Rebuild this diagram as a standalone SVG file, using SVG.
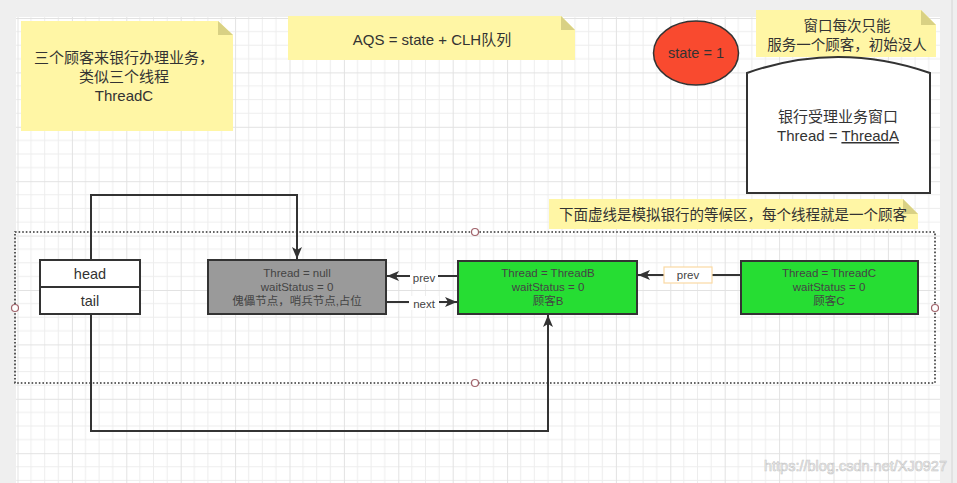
<svg xmlns="http://www.w3.org/2000/svg" width="957" height="483" viewBox="0 0 957 483">
<defs>
<pattern id="grid" patternUnits="userSpaceOnUse" x="17.5" y="18" width="54.4" height="54.4">
<path d="M13.6,0V54.4M27.2,0V54.4M40.8,0V54.4M0,13.6H54.4M0,27.2H54.4M0,40.8H54.4" stroke="#ededed" stroke-width="1" fill="none"/>
<path d="M0.5,0V54.4M0,0.5H54.4" stroke="#e2e2e2" stroke-width="1" fill="none"/>
</pattern>
<marker id="arr" markerUnits="userSpaceOnUse" markerWidth="14" markerHeight="12" refX="12" refY="5" orient="auto">
<path d="M0,0 L12,5 L0,10 L3,5 Z" fill="#333"/>
</marker>
<style>
.note{fill:#fff6a5}
.fold{fill:#d9d184}
.t{font-family:"Liberation Sans","Noto Sans CJK SC",sans-serif;fill:#333;text-anchor:middle}
.n{font-family:"Liberation Sans","Noto Sans CJK SC",sans-serif;fill:#444;text-anchor:middle;font-size:11.5px}
.box{stroke:#333;stroke-width:2}
.conn{fill:none;stroke:#333;stroke-width:2}
.handle{fill:#fff;stroke:#a0626a;stroke-width:1.2}
</style>
</defs>
<rect x="0" y="0" width="957" height="483" fill="#efefef"/>
<rect x="16" y="17" width="924" height="466" fill="#fff"/>
<rect x="16" y="17" width="924" height="466" fill="url(#grid)"/>
<line x1="952" y1="0" x2="952" y2="483" stroke="#d4d4d4" stroke-width="1"/>

<g id="note-customers">
<path class="note" d="M21,21H218L233,35V131H21Z"/>
<path class="fold" d="M218,21L233,35H218Z"/>
<text class="t" font-size="15" x="124" y="63">三个顾客来银行办理业务，</text>
<text class="t" font-size="15" x="124" y="82">类似三个线程</text>
<text class="t" font-size="15" x="124" y="101">ThreadC</text>
</g>

<g id="note-aqs">
<path class="note" d="M288,16H561L575,30V60H288Z"/>
<path class="fold" d="M561,16L575,30H561Z"/>
<text class="t" font-size="15" x="432" y="45">AQS = state + CLH队列</text>
</g>

<g id="state">
<ellipse cx="696" cy="53" rx="42.5" ry="32" fill="#f94a2f" stroke="#333" stroke-width="1.5"/>
<text class="t" font-size="14.5" x="696" y="58">state = 1</text>
</g>

<g id="note-window">
<path class="note" d="M756,10H921L936,25V57H756Z"/>
<path class="fold" d="M921,10L936,25H921Z"/>
<text class="t" font-size="14.5" x="847" y="31">窗口每次只能</text>
<text class="t" font-size="14.5" x="847" y="50">服务一个顾客，初始没人</text>
</g>

<g id="window">
<path d="M747,193V73Q838,41 930,73V193Z" fill="#fff" stroke="#333" stroke-width="2"/>
<text class="t" font-size="15" x="838" y="122">银行受理业务窗口</text>
<text class="t" font-size="15" x="838" y="141">Thread = <tspan text-decoration="underline">ThreadA</tspan></text>
</g>

<g id="note-queue">
<path class="note" d="M549,199H903L918,214V229H549Z"/>
<path class="fold" d="M903,199L918,214H903Z"/>
<text class="t" font-size="14.5" x="733" y="220">下面虚线是模拟银行的等候区，每个线程就是一个顾客</text>
</g>

<g id="waiting-area">
<rect x="15" y="232" width="920" height="151" fill="none" stroke="#333" stroke-width="1.6" stroke-dasharray="1.6 2"/>
<circle class="handle" cx="475" cy="232" r="3.5"/>
<circle class="handle" cx="15" cy="308" r="3.5"/>
<circle class="handle" cx="935" cy="308" r="3.5"/>
<circle class="handle" cx="475" cy="383" r="3.5"/>
</g>

<g id="head-tail">
<rect class="box" x="40" y="260" width="100" height="54" fill="#fff"/>
<line x1="40" y1="287" x2="140" y2="287" stroke="#333" stroke-width="2"/>
<text class="t" font-size="14.5" x="90" y="279">head</text>
<text class="t" font-size="14.5" x="90" y="306">tail</text>
</g>

<g id="node-null">
<rect class="box" x="208" y="260" width="178" height="54" fill="#9a9a9a"/>
<text class="n" x="297" y="277">Thread = null</text>
<text class="n" x="297" y="291">waitStatus = 0</text>
<text class="n" x="297" y="305">傀儡节点，哨兵节点,占位</text>
</g>

<g id="node-b">
<rect class="box" x="458" y="261" width="179" height="53" fill="#26dd33"/>
<text class="n" x="548" y="277">Thread = ThreadB</text>
<text class="n" x="548" y="291">waitStatus = 0</text>
<text class="n" x="548" y="305">顾客B</text>
</g>

<g id="node-c">
<rect class="box" x="741" y="261" width="177" height="53" fill="#26dd33"/>
<text class="n" x="829" y="277">Thread = ThreadC</text>
<text class="n" x="829" y="291">waitStatus = 0</text>
<text class="n" x="829" y="305">顾客C</text>
</g>

<g id="connectors">
<path class="conn" d="M91,260V195H297V259" marker-end="url(#arr)"/>
<path class="conn" d="M91,314V431H548V315" marker-end="url(#arr)"/>
<path class="conn" d="M458,276H387" marker-end="url(#arr)"/>
<path class="conn" d="M386,302H457" marker-end="url(#arr)"/>
<path class="conn" d="M741,275H638" marker-end="url(#arr)"/>
<rect x="410" y="270" width="28" height="14" fill="#fff"/>
<text class="n" font-size="12" x="424" y="282">prev</text>
<rect x="409" y="296" width="30" height="14" fill="#fff"/>
<text class="n" font-size="12" x="424" y="308">next</text>
<rect x="664" y="267" width="48" height="16" fill="#fff" stroke="#fbd9a3" stroke-width="1.2"/>
<text class="n" font-size="12" x="688" y="279">prev</text>
</g>

<text x="947" y="471" font-family="'Liberation Sans',sans-serif" font-size="14.5" text-anchor="end" fill="#f4f4f4" stroke="#c6c6c6" stroke-width="0.6">https://blog.csdn.net/XJ0927</text>
</svg>
